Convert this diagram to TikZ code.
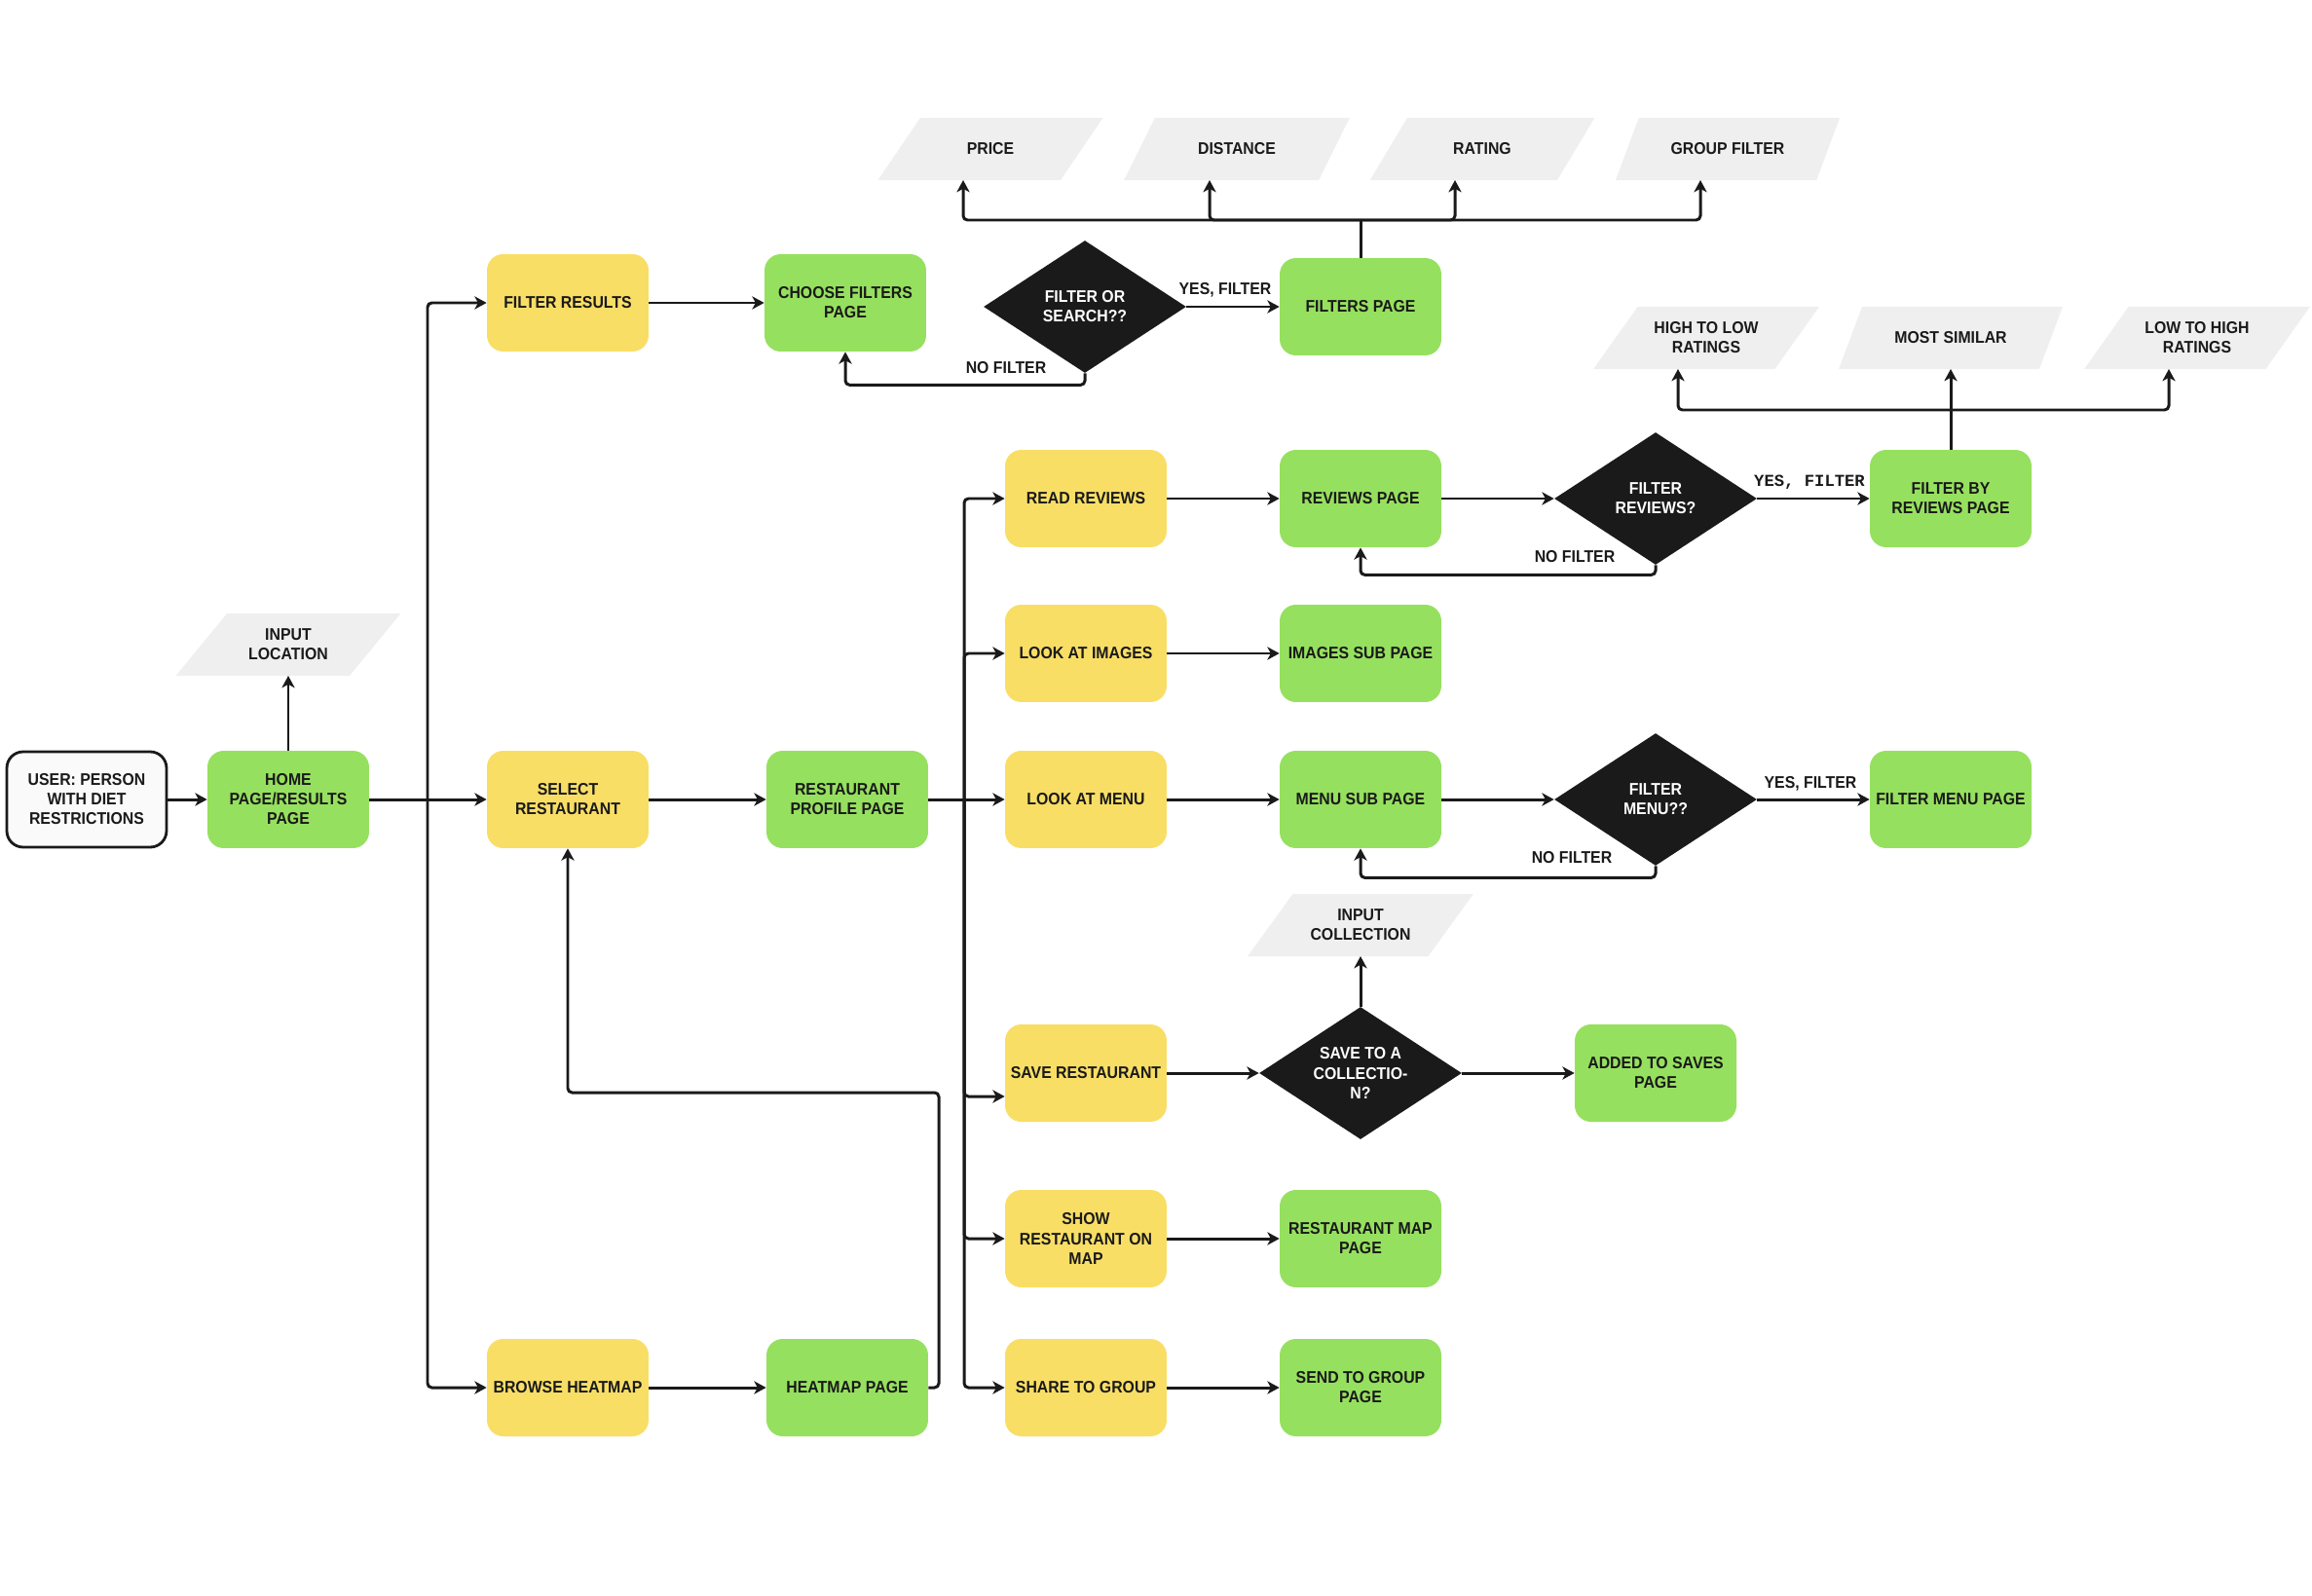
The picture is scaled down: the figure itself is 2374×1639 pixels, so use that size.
\documentclass[tikz,border=0pt]{standalone}
\usepackage{fontspec}
\setmainfont{Liberation Sans}[FakeStretch=0.92]
\newfontfamily\lblmono{Liberation Mono}
\usetikzlibrary{arrows.meta,shapes.geometric,calc}
\definecolor{grn}{HTML}{96E05F}
\definecolor{ylw}{HTML}{F9DE66}
\definecolor{gry}{HTML}{EFEFEF}
\definecolor{ink}{HTML}{1A1A1A}
\definecolor{usrfill}{HTML}{FAFAFA}
\begin{document}
\begin{tikzpicture}[x=0.02cm,y=-0.02cm,
 font=\bfseries\fontsize{9.8}{11.4}\selectfont,
 box/.style={rectangle, rounded corners=9.5pt, minimum width=3.32cm, minimum height=2.0cm, align=center, inner sep=1pt, text=ink},
 gbox/.style={box, fill=grn},
 ybox/.style={box, fill=ylw},
 ubox/.style={box, fill=usrfill, draw=ink, line width=1.6pt, minimum width=3.28cm, minimum height=1.96cm},
 dec/.style={diamond, aspect=1.5, fill=ink, text=white, align=center, inner sep=0pt, minimum width=4.16cm, minimum height=2.72cm},
 para/.style={trapezium, trapezium left angle=45, trapezium right angle=135, trapezium stretches=true, fill=gry, minimum width=4.64cm, minimum height=1.28cm, align=center, inner sep=1pt, text=ink},
 conn/.style={draw=ink, line width=1.7pt, rounded corners=2.5pt},
 arr/.style={conn, -{Stealth[length=7pt,width=7.5pt,inset=2pt]}},
 lbl/.style={text=ink, inner sep=1pt},
]
\fill[white] (0,0) rectangle (2374,1639);
\useasboundingbox (0,0) rectangle (2374,1639);

% nodes
\node[ubox] (user) at (89,821) {USER: PERSON\\WITH DIET\\RESTRICTIONS};
\node[gbox] (home) at (296,821) {HOME\\PAGE/RESULTS\\PAGE};
\node[para] (inloc) at (296,662) {INPUT\\LOCATION};

\node[ybox] (filtres) at (583,311) {FILTER RESULTS};
\node[ybox] (select) at (583,821) {SELECT\\RESTAURANT};
\node[ybox] (browse) at (583,1425) {BROWSE HEATMAP};

\node[gbox] (choose) at (868,311) {CHOOSE FILTERS\\PAGE};
\node[gbox] (profile) at (870,821) {RESTAURANT\\PROFILE PAGE};
\node[gbox] (heatmap) at (870,1425) {HEATMAP PAGE};

\node[dec] (fos) at (1114,315) {FILTER OR\\SEARCH??};
\node[gbox] (filters) at (1397,315) {FILTERS PAGE};
\node[para] (price) at (1017,153) {PRICE};
\node[para] (distance) at (1270,153) {DISTANCE};
\node[para] (rating) at (1522,153) {RATING};
\node[para] (group) at (1774,153) {GROUP FILTER};

\node[ybox] (read) at (1115,512) {READ REVIEWS};
\node[ybox] (images) at (1115,671) {LOOK AT IMAGES};
\node[ybox] (menu) at (1115,821) {LOOK AT MENU};
\node[ybox] (save) at (1115,1102) {SAVE RESTAURANT};
\node[ybox] (show) at (1115,1272) {SHOW\\RESTAURANT ON\\MAP};
\node[ybox] (share) at (1115,1425) {SHARE TO GROUP};

\node[gbox] (reviews) at (1397,512) {REVIEWS PAGE};
\node[gbox] (imgpage) at (1397,671) {IMAGES SUB PAGE};
\node[gbox] (menupage) at (1397,821) {MENU SUB PAGE};
\node[dec] (savediam) at (1397,1102) {SAVE TO A\\COLLECTIO-\\N?};
\node[para] (inputcoll) at (1397,950) {INPUT\\COLLECTION};
\node[gbox] (mappage) at (1397,1272) {RESTAURANT MAP\\PAGE};
\node[gbox] (sendpage) at (1397,1425) {SEND TO GROUP\\PAGE};

\node[dec] (frev) at (1700,512) {FILTER\\REVIEWS?};
\node[dec] (fmenu) at (1700,821) {FILTER\\MENU??};
\node[gbox] (added) at (1700,1102) {ADDED TO SAVES\\PAGE};

\node[gbox] (filterby) at (2003,512) {FILTER BY\\REVIEWS PAGE};
\node[gbox] (filtermenu) at (2003,821) {FILTER MENU PAGE};

\node[para] (hightolow) at (1752,347) {HIGH TO LOW\\RATINGS};
\node[para] (mostsim) at (2003,347) {MOST SIMILAR};
\node[para] (lowtohigh) at (2256,347) {LOW TO HIGH\\RATINGS};

% junction coordinates
\coordinate (j1) at (439,821);
\coordinate (j2) at (990,821);
\coordinate (bus1) at (1397,226);
\coordinate (bus2) at (2003,421);
\coordinate (hmturn) at (964,1122);

% connectors
\draw[arr] (user) -- (home);
\draw[arr] (home.north) -- ($(inloc.center)+(0,32)$);
\draw[arr] (home.east) -- (select.west);
\draw[arr] (j1) |- (filtres.west);
\draw[arr] (j1) |- (browse.west);

\draw[arr] (filtres) -- (choose);
\draw[arr] (fos) -- (filters);
\node[lbl] at (1258,298) {YES, FILTER};
\draw[arr] (fos.south) -- ++(0,12) -| (choose.south);
\node[lbl] at (1033,378) {NO FILTER};

\draw[conn] (filters.north) -- (bus1);
\draw[arr] (bus1) -| ($(price.center)+(-28,32)$);
\draw[arr] (bus1) -| ($(distance.center)+(-28,32)$);
\draw[arr] (bus1) -| ($(rating.center)+(-28,32)$);
\draw[arr] (bus1) -| ($(group.center)+(-28,32)$);

\draw[arr] (select) -- (profile);
\draw[arr] (profile.east) -- (menu.west);
\draw[arr] (j2) |- (read.west);
\draw[arr] (j2) |- (images.west);
\draw[arr] (j2) |- ($(save.west)+(0,24)$);
\draw[arr] (j2) |- (show.west);
\draw[arr] (j2) |- (share.west);

\draw[arr] (read) -- (reviews);
\draw[arr] (reviews) -- (frev);
\draw[arr] (frev) -- (filterby);
\node[lbl, font=\lblmono\bfseries\fontsize{9.8}{11.4}\selectfont] at (1858,495) {YES, FILTER};
\draw[arr] (frev.south) -- ++(0,10) -| (reviews.south);
\node[lbl] at (1617,572) {NO FILTER};

\draw[conn] (filterby.north) -- (bus2);
\draw[arr] (bus2) -| ($(hightolow.center)+(-29,32)$);
\draw[arr] (bus2) -- ($(mostsim.center)+(0,32)$);
\draw[arr] (bus2) -| ($(lowtohigh.center)+(-29,32)$);

\draw[arr] (images) -- (imgpage);

\draw[arr] (menu) -- (menupage);
\draw[arr] (menupage) -- (fmenu);
\draw[arr] (fmenu) -- (filtermenu);
\node[lbl] at (1859,805) {YES, FILTER};
\draw[arr] (fmenu.south) -- ++(0,12) -| (menupage.south);
\node[lbl] at (1614,881) {NO FILTER};

\draw[arr] (save) -- (savediam);
\draw[arr] (savediam) -- (added);
\draw[arr] (savediam.north) -- ($(inputcoll.center)+(0,32)$);

\draw[arr] (show) -- (mappage);
\draw[arr] (share) -- (sendpage);
\draw[arr] (browse) -- (heatmap);
\draw[arr] (heatmap.east) -| (hmturn) -| (select.south);
\end{tikzpicture}
\end{document}
